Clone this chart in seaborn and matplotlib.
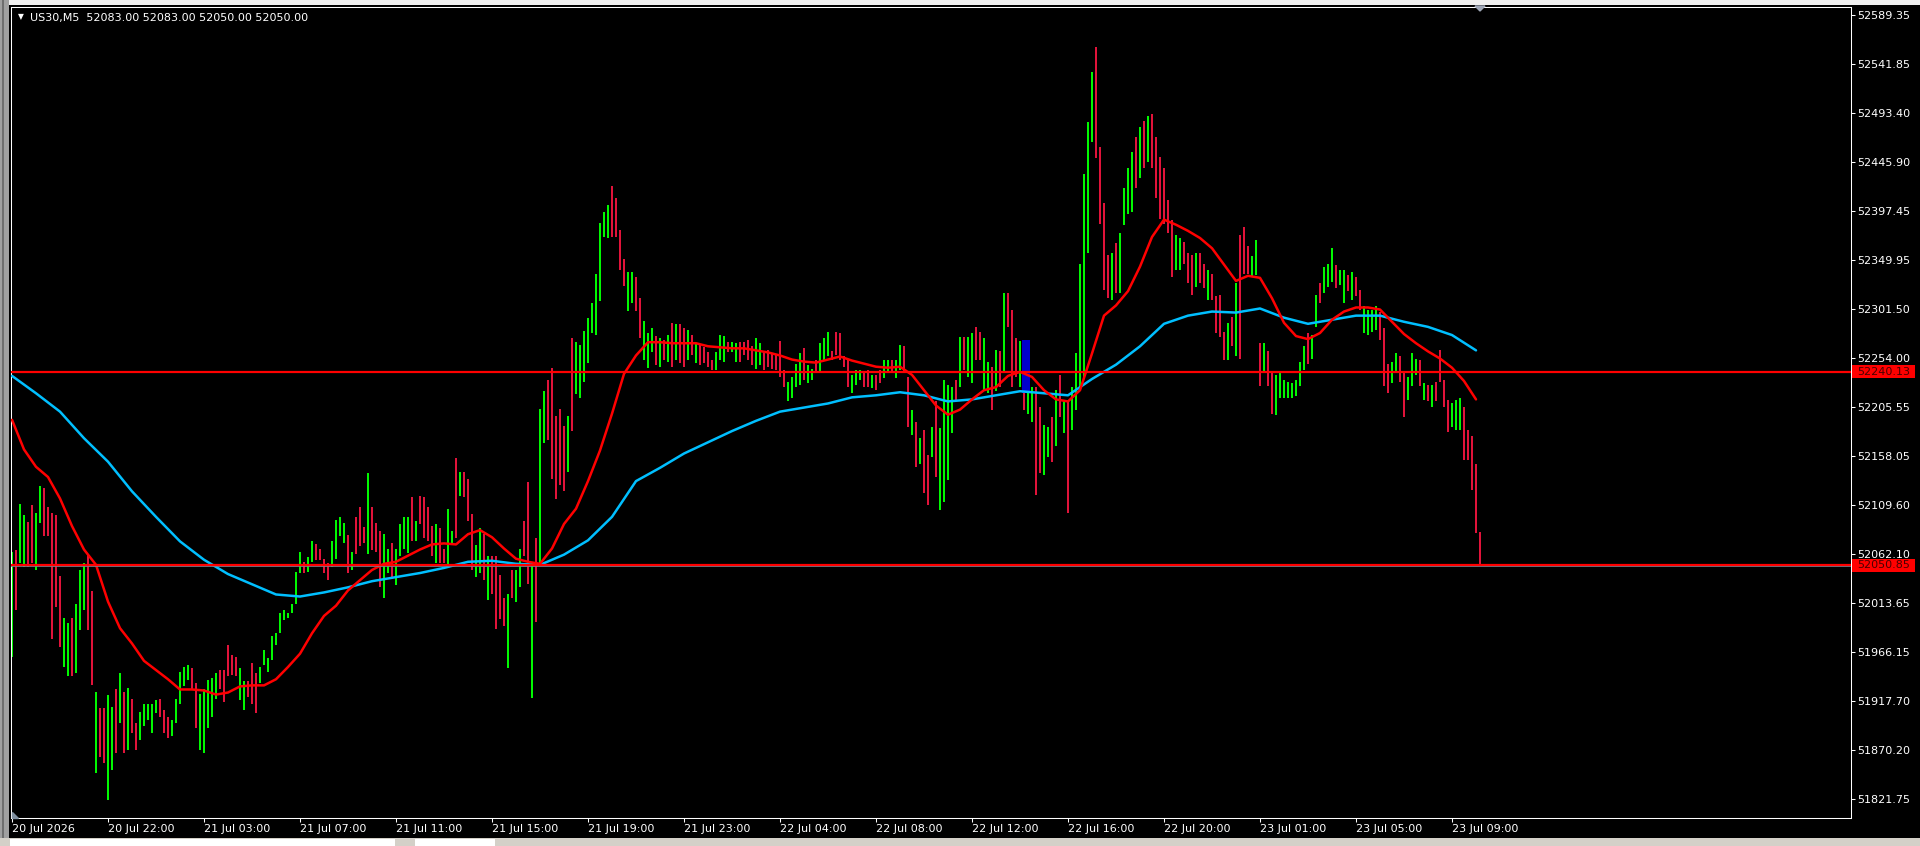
"""
Recreates an MT4 style US30 M5 chart: bars, two moving averages,
two horizontal levels and the terminal price scale.
"""

import numpy as np
import pandas as pd
import matplotlib
matplotlib.use("Agg")
import matplotlib.pyplot as plt
import matplotlib.transforms as mtransforms
import seaborn as sns
from matplotlib.patches import Rectangle, Polygon


# ---------------------------------------------------------------------------
# 1. Values (each bar here spans 10 minutes)
# ---------------------------------------------------------------------------
header = "US30,M5  52083.00 52083.00 52050.00 52050.00"

bar_high = [
    52064, 52066, 52111, 52100, 52093, 52110, 52102, 52128, 52126, 52108,
    52102, 52100, 52040, 51999, 51994, 51999, 52013, 52046, 52053, 52062,
    52025, 51927, 51911, 51911, 51924, 51912, 51929, 51945, 51927, 51930,
    51920, 51896, 51907, 51915, 51915, 51915, 51919, 51920, 51909, 51902,
    51899, 51920, 51946, 51951, 51953, 51950, 51935, 51925, 51929, 51938,
    51940, 51945, 51948, 51948, 51973, 51963, 51961, 51950, 51937, 51937,
    51955, 51945, 51951, 51968, 51960, 51981, 51984, 52004, 52007, 52004,
    52013, 52044, 52064, 52054, 52059, 52074, 52071, 52067, 52057, 52053,
    52074, 52095, 52098, 52092, 52080, 52064, 52098, 52108, 52088, 52141,
    52108, 52092,
    52084, 52081, 52067, 52072, 52067, 52091, 52098, 52098, 52117, 52094,
    52118, 52117, 52108, 52089, 52091, 52087, 52067, 52106, 52084, 52156,
    52142, 52142, 52135, 52101, 52070, 52087, 52081, 52060, 52060, 52060,
    52041, 52019, 52022, 52046, 52046, 52067, 52094, 52132, 52053, 52077,
    52204, 52221, 52232, 52244, 52197, 52204, 52187, 52197, 52273, 52269,
    52266, 52280, 52293, 52307, 52336, 52386, 52396, 52403, 52422, 52410,
    52379, 52350, 52338, 52338, 52333, 52312, 52290, 52278, 52283, 52275,
    52273, 52271, 52276, 52288, 52287, 52287, 52283, 52281, 52276, 52268,
    52266, 52264, 52259, 52252, 52259, 52276, 52275, 52269, 52269, 52268,
    52269, 52269, 52271,
    52265, 52273, 52268, 52260, 52261, 52258, 52256, 52270, 52242, 52230,
    52235, 52248, 52258, 52263, 52247, 52243, 52252, 52268, 52273, 52279,
    52260, 52279, 52278, 52255, 52253, 52237, 52242, 52242, 52240, 52242,
    52237, 52237, 52242, 52252, 52252, 52252, 52252, 52266, 52265, 52235,
    52203, 52191, 52175, 52183, 52159, 52186, 52211, 52185, 52232, 52227,
    52225, 52232, 52274, 52274, 52274, 52278, 52284, 52279, 52273, 52250,
    52245, 52261, 52260, 52317, 52317, 52301, 52273, 52270, 52258, 52271,
    52225, 52225, 52206, 52188, 52186, 52196, 52222, 52237, 52212, 52211,
    52225, 52258, 52346, 52434, 52485, 52534, 52558, 52460, 52405, 52354,
    52356, 52366,
    52376, 52420, 52440, 52455, 52470, 52480, 52486, 52490, 52492, 52470,
    52450, 52440, 52408, 52389, 52374, 52371, 52367, 52356, 52354, 52356,
    52356, 52346, 52340, 52336, 52314, 52315, 52279, 52288, 52294, 52327,
    52374, 52382, 52363, 52353, 52369, 52268, 52268, 52260, 52239, 52237,
    52239, 52232, 52230, 52229, 52232, 52250, 52265, 52278, 52276, 52315,
    52327, 52343, 52346, 52361, 52345, 52340, 52340, 52335, 52338, 52333,
    52320, 52304, 52301, 52301, 52304, 52299, 52283, 52248, 52250, 52258,
    52255, 52239, 52235, 52258, 52253, 52252, 52229, 52227, 52227, 52230,
    52261, 52232, 52212, 52209, 52212, 52214, 52206, 52183, 52177, 52150,
    52083,
]

bar_low = [
    51961, 52007, 52053, 52049, 52049, 52053, 52046, 52092, 52079, 52079,
    51978, 52010, 51971, 51951, 51942, 51942, 51945, 51987, 52007, 51987,
    51933, 51847, 51863, 51857, 51821, 51850, 51867, 51896, 51867, 51870,
    51886, 51870, 51880, 51893, 51899, 51886, 51906, 51902, 51886, 51881,
    51883, 51896, 51915, 51932, 51938, 51929, 51891, 51870, 51867, 51891,
    51902, 51920, 51929, 51917, 51942, 51943, 51942, 51919, 51909, 51922,
    51915, 51906, 51935, 51953, 51946, 51958, 51973, 51984, 51997, 51999,
    52004, 52013, 52043, 52043, 52044, 52054, 52056, 52056, 52043, 52036,
    52049, 52057, 52079, 52072, 52043, 52046, 52062, 52069, 52072, 52062,
    52066, 52064,
    52029, 52019, 52043, 52039, 52031, 52060, 52067, 52063, 52074, 52074,
    52091, 52077, 52074, 52060, 52053, 52053, 52053, 52050, 52070, 52077,
    52118, 52117, 52094, 52046, 52039, 52043, 52036, 52017, 52022, 51988,
    51998, 51991, 51950, 52019, 52015, 52029, 52060, 52032, 51921, 51995,
    52050, 52170, 52173, 52135, 52115, 52129, 52123, 52142, 52182, 52218,
    52214, 52230, 52249, 52278, 52276, 52309, 52372, 52371, 52372, 52372,
    52340, 52324, 52300, 52307, 52300, 52273, 52252, 52244, 52259, 52247,
    52245, 52252, 52250, 52245, 52252, 52249, 52245, 52252, 52256, 52249,
    52247, 52249, 52245, 52242, 52242, 52252, 52250, 52259, 52259, 52250,
    52250, 52256, 52252,
    52247, 52243, 52247, 52242, 52245, 52243, 52242, 52235, 52225, 52211,
    52214, 52225, 52227, 52232, 52229, 52232, 52239, 52239, 52252, 52255,
    52252, 52256, 52252, 52245, 52225, 52219, 52227, 52232, 52225, 52225,
    52224, 52222, 52229, 52234, 52239, 52239, 52234, 52242, 52239, 52186,
    52178, 52147, 52150, 52121, 52110, 52157, 52137, 52105, 52113, 52134,
    52180, 52212, 52225, 52242, 52235, 52229, 52252, 52252, 52221, 52219,
    52203, 52221, 52225, 52239, 52284, 52225, 52235, 52225, 52203, 52199,
    52191, 52119, 52141, 52139, 52157, 52152, 52167, 52196, 52180, 52102,
    52183, 52203, 52225, 52235, 52356, 52465, 52449, 52385, 52320, 52312,
    52310, 52317,
    52317, 52384, 52395, 52396, 52420, 52430, 52440, 52445, 52440, 52410,
    52390, 52385, 52376, 52333, 52340, 52340, 52346, 52327, 52315, 52323,
    52327, 52322, 52310, 52310, 52278, 52274, 52252, 52252, 52265, 52255,
    52253, 52336, 52336, 52333, 52335, 52226, 52239, 52226, 52199, 52198,
    52214, 52214, 52214, 52214, 52216, 52226, 52242, 52248, 52253, 52284,
    52307, 52317, 52323, 52328, 52322, 52325, 52307, 52319, 52310, 52314,
    52301, 52278, 52276, 52279, 52281, 52271, 52226, 52219, 52229, 52239,
    52230, 52196, 52212, 52226, 52237, 52226, 52212, 52211, 52206, 52211,
    52230, 52206, 52181, 52186, 52183, 52183, 52154, 52154, 52124, 52082,
    52050,
]

# G = up bar, R = down bar
bar_dir = (
    "GRGGRRGGRR" "RRRGGRGGGR" "RGRRGGRGRG" "RRGGGGGRRR" "GGGGGRRGGG"
    "GGRRRRRGGR" "RRGGGGGGGG" "GGGRGGRRRR" "GGGGRGRRRG" "RR"
    "RGGRGGGGRG" "RRRRGRRGGR" "GRRRGGRGRR" "RRGRGGRRGR" "GGRRRRRGRG"
    "GGGGGGGGRR" "RRGGRRGGGR" "GRGRGRRGRG" "RRRRGGGRGG" "RRR"
    "RGGRRRRRRG" "GGGRGGRGGG" "RRRRRGGGRR" "GRRGGRGGRR" "GRGRRGRGGG"
    "GRGRGGRRGG" "RGRGRRRGRG" "GRRGGRGRGR" "GGGGGGRRRR" "GR"
    "GGGGRGRGRR" "RRRRGGRRRG" "RRGRRRRGRG" "RRRGGRGRRG" "GGGGGGGRGG"
    "RGGGRGGRGR" "RGGGGRRRGG" "RRGGGRGRGR" "RRRGGGRRRR" "R"
)

# fast moving average (red), one reading every 3 bars
fast_step = 3
ma_fast = [
    52193, 52164, 52147, 52137, 52116, 52089, 52066, 52051, 52015, 51989,
    51974, 51957, 51948, 51939, 51929, 51929, 51928, 51924, 51926, 51932,
    51933, 51933, 51939, 51951, 51964, 51984, 52001, 52011, 52026, 52036,
    52046,
    52052, 52054, 52060, 52066, 52071, 52072, 52071, 52081, 52085, 52078,
    52067, 52057, 52054, 52052, 52067, 52091, 52106, 52133, 52163, 52199,
    52238, 52256, 52269, 52269, 52268, 52268, 52268, 52265, 52264, 52263,
    52263,
    52261, 52259, 52256, 52252, 52250, 52249, 52252, 52255, 52251, 52248,
    52245, 52244, 52245, 52237, 52222, 52207, 52198, 52203, 52213, 52222,
    52225, 52236, 52240, 52235, 52222, 52213, 52211, 52222, 52258, 52295,
    52305,
    52319, 52343, 52372, 52389, 52384, 52378, 52371, 52361, 52345, 52329,
    52334, 52332, 52312, 52288, 52275, 52272, 52278, 52291, 52299, 52303,
    52303, 52301, 52289, 52277, 52268, 52260, 52253, 52244, 52231, 52213,
]

# slow moving average (blue), one reading every 6 bars
slow_step = 6
ma_slow = [
    52236, 52219, 52201, 52175, 52152, 52123, 52098, 52074, 52056, 52042,
    52032, 52022, 52020, 52024, 52029, 52035, 52039, 52043, 52048, 52054,
    52055, 52052, 52051, 52061, 52075, 52098, 52133, 52146, 52160, 52171,
    52182, 52192, 52201, 52205, 52209, 52215, 52217, 52220, 52217, 52211,
    52213, 52217, 52221, 52219, 52217, 52233, 52247, 52265, 52287, 52295,
    52299, 52298, 52302, 52293, 52287, 52291, 52295, 52295, 52289, 52284,
    52276, 52261,
]

level_upper = 52240.13
level_last = 52050.85
bid_price = 52050.00

# the blue highlighted block
marked_bars = [253, 254]
marked_top = 52271
marked_bottom = 52219

price_ticks = [
    52589.35, 52541.85, 52493.40, 52445.90, 52397.45, 52349.95,
    52301.50, 52254.00, 52205.55, 52158.05, 52109.60, 52062.10,
    52013.65, 51966.15, 51917.70, 51870.20, 51821.75,
]

time_tick_bars = [0, 24, 48, 72, 96, 120, 144, 168,
                  192, 216, 240, 264, 288, 312, 336, 360]
time_labels = [
    "20 Jul 2026", "20 Jul 22:00", "21 Jul 03:00", "21 Jul 07:00",
    "21 Jul 11:00", "21 Jul 15:00", "21 Jul 19:00", "21 Jul 23:00",
    "22 Jul 04:00", "22 Jul 08:00", "22 Jul 12:00", "22 Jul 16:00",
    "22 Jul 20:00", "23 Jul 01:00", "23 Jul 05:00", "23 Jul 09:00",
]


# ---------------------------------------------------------------------------
# 2. Layout helpers (pixel -> figure fraction)
# ---------------------------------------------------------------------------
W, H = 1920, 846


def fx(px):
    return px / W


def fy(py):
    return 1 - py / H


def add_box(fig, x0, y0, x1, y1, color):
    fig.patches.append(Rectangle((fx(x0), fy(y1)), fx(x1 - x0), (y1 - y0) / H,
                                 transform=fig.transFigure, color=color,
                                 lw=0, zorder=-5))


# ---------------------------------------------------------------------------
# 3. Plot
# ---------------------------------------------------------------------------
def plot_chart():
    assert len(bar_high) == len(bar_low) == len(bar_dir)

    sns.set_theme(style="dark", rc={
        "axes.facecolor": "black",
        "figure.facecolor": "black",
        "axes.edgecolor": "white",
        "axes.linewidth": 0.75,
        "xtick.color": "white",
        "ytick.color": "white",
        "text.color": "white",
    })
    plt.rcParams["font.family"] = ["DejaVu Sans"]

    fig = plt.figure(figsize=(W / 100, H / 100), dpi=100)
    ax = fig.add_axes([fx(11), fy(818), fx(1851 - 11), (818 - 7) / H])

    bars = pd.DataFrame({
        "bar": np.arange(len(bar_high)),
        "high": bar_high,
        "low": bar_low,
        "dir": list(bar_dir),
    })
    bar_colors = bars["dir"].map({"G": "#00FF00", "R": "#E8143C"})
    ax.vlines(bars["bar"], bars["low"], bars["high"], colors=bar_colors,
              linewidth=1.4, zorder=2)

    # highlighted block
    ax.bar(np.mean(marked_bars), marked_top - marked_bottom,
           bottom=marked_bottom, width=len(marked_bars),
           color="#0000CD", linewidth=0, zorder=2.5)

    fast = pd.DataFrame({"bar": np.arange(len(ma_fast)) * fast_step,
                         "value": ma_fast})
    slow = pd.DataFrame({"bar": np.arange(len(ma_slow)) * slow_step,
                         "value": ma_slow})
    sns.lineplot(data=slow, x="bar", y="value", color="#00BFFF",
                 linewidth=1.8, ax=ax, zorder=3)
    sns.lineplot(data=fast, x="bar", y="value", color="#FF0000",
                 linewidth=1.8, ax=ax, zorder=3)

    # horizontal levels
    ax.axhline(level_upper, color="#FF0000", linewidth=1.6, zorder=4)
    ax.axhline(bid_price, color="#778899", linewidth=1.2, zorder=4)
    ax.axhline(level_last, color="#FF0000", linewidth=1.6, zorder=5)

    ax.set_xlim(-0.25, 459.75)
    ax.set_ylim(51803.15, 52597.18)
    ax.set_xlabel("")
    ax.set_ylabel("")

    ax.yaxis.tick_right()
    ax.set_yticks(price_ticks)
    ax.set_yticklabels([f"{v:.2f}" for v in price_ticks])
    ax.set_xticks(time_tick_bars)
    ax.set_xticklabels(time_labels, ha="left")
    ax.tick_params(axis="both", which="major", direction="out", length=2.9,
                   width=0.75, pad=1.5, labelsize=8, colors="white",
                   bottom=True, right=True, left=False)
    for spine in ax.spines.values():
        spine.set_color("white")
        spine.set_linewidth(0.75)
    ax.grid(False)

    # price tags on the scale
    tag_tf = mtransforms.blended_transform_factory(fig.transFigure, ax.transData)
    tag_h = 13 * (52597.18 - 51803.15) / 811
    for level in (level_upper, level_last):
        ax.add_patch(Rectangle((fx(1852), level - tag_h / 2), fx(63), tag_h,
                               transform=tag_tf, color="#FF0000", lw=0,
                               clip_on=False, zorder=6))
        ax.text(fx(1857), level, f"{level:.2f}", transform=tag_tf,
                color="#4A0000", fontsize=8, va="center", ha="left",
                clip_on=False, zorder=7)

    # header line
    fig.text(fx(30), fy(21), header, color="white", fontsize=8,
             va="baseline", ha="left")
    fig.text(fx(20.5), fy(16.5), "\u25BC", color="white", fontsize=5.5,
             va="center", ha="center")

    # window chrome around the chart
    add_box(fig, 0, 0, W, 5, "#F0F0F0")
    add_box(fig, 0, 0, 9, H, "#A0A0A0")
    add_box(fig, 2, 0, 4, H, "#6E6E6E")
    add_box(fig, 0, 838, W, H, "#D4D0C8")
    add_box(fig, 10, 839, 395, H, "#FFFFFF")
    add_box(fig, 415, 839, 495, H, "#FFFFFF")

    # chart shift markers
    fig.patches.append(Polygon([(fx(1475), fy(6)), (fx(1485), fy(6)),
                                (fx(1480), fy(11))], closed=True,
                               transform=fig.transFigure, color="#A0A8B8"))
    fig.patches.append(Polygon([(fx(12), fy(812)), (fx(12), fy(818)),
                                (fx(18), fy(818))], closed=True,
                               transform=fig.transFigure, color="#8090A0"))

    fig.savefig("out.png", dpi=100, facecolor="black")


if __name__ == "__main__":
    plot_chart()
